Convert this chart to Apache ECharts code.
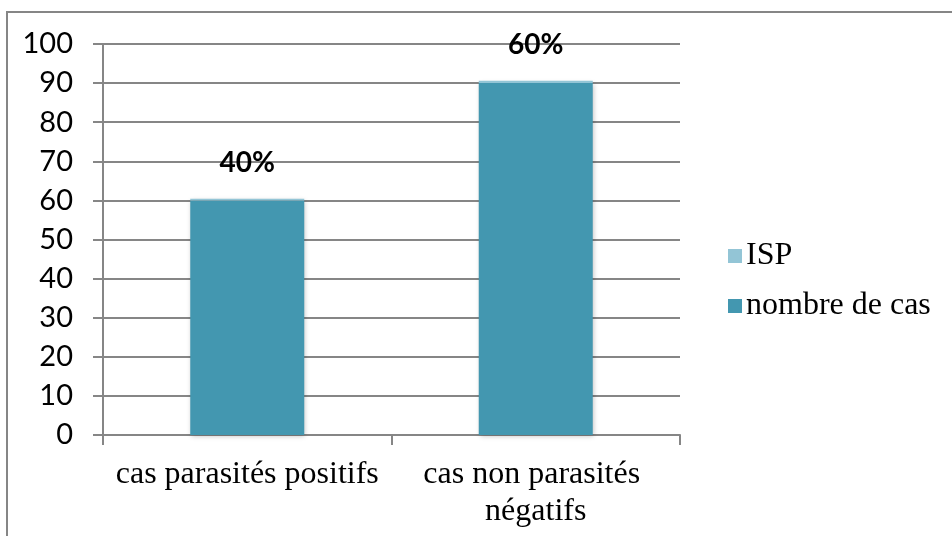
<!DOCTYPE html>
<html>
<head>
<meta charset="utf-8">
<script src="https://cdn.jsdelivr.net/npm/echarts@6/dist/echarts.min.js"></script>
<style>
html,body{margin:0;padding:0;background:#fff;}
#chart{width:952px;height:536px;}
</style>
</head>
<body>
<div id="chart"></div>
<script>
var categories = ['cas parasités positifs', 'cas non parasités négatifs'];
var nombreDeCas = [60, 90];
var ispValues = [0.4, 0.6];
var yTicks = { min: 0, max: 100, interval: 10 };

var sansFont = 'Lato';
var serifFont = 'Liberation Serif';
var gray = '#868686';

var chart = echarts.init(document.getElementById('chart'));
chart.setOption({
  backgroundColor: '#ffffff',
  animation: false,
  graphic: [{
    type: 'rect',
    shape: { x: 7, y: 12, width: 960, height: 540 },
    style: { fill: 'none', stroke: gray, lineWidth: 2 },
    silent: true
  }],
  grid: { left: 103, right: 272, top: 44, bottom: 101 },
  legend: {
    orient: 'vertical',
    left: 723,
    top: 235,
    itemWidth: 14,
    itemHeight: 14,
    itemGap: 18,
    icon: 'rect',
    data: ['ISP', 'nombre de cas'],
    textStyle: { fontFamily: serifFont, fontSize: 32, color: '#000', lineHeight: 32, padding: [0, 0, 0, -1] }
  },
  xAxis: {
    type: 'category',
    data: categories,
    boundaryGap: true,
    axisLine: { lineStyle: { color: gray, width: 2 } },
    axisTick: { show: true, length: 10, lineStyle: { color: gray, width: 2 } },
    axisLabel: {
      interval: 0,
      margin: 21,
      fontFamily: serifFont,
      fontSize: 32,
      lineHeight: 37,
      color: '#000',
      width: 285,
      overflow: 'break',
      align: 'center'
    }
  },
  yAxis: {
    type: 'value',
    min: yTicks.min,
    max: yTicks.max,
    interval: yTicks.interval,
    axisLine: { show: true, lineStyle: { color: gray, width: 2 } },
    axisTick: { show: true, length: 10, lineStyle: { color: gray, width: 2 } },
    splitLine: { show: true, lineStyle: { color: gray, width: 2 } },
    axisLabel: { margin: 30, fontFamily: sansFont, fontSize: 29, color: '#000' }
  },
  series: [
    {
      name: 'nombre de cas',
      type: 'bar',
      stack: 'total',
      data: nombreDeCas,
      barWidth: 114,
      itemStyle: {
        color: '#4397b0',
        shadowColor: 'rgba(0,0,0,0.25)',
        shadowBlur: 5,
        shadowOffsetX: 1,
        shadowOffsetY: 1
      }
    },
    {
      name: 'ISP',
      type: 'bar',
      stack: 'total',
      data: ispValues,
      barWidth: 114,
      itemStyle: { color: '#93c5d6' },
      label: {
        show: true,
        position: 'top',
        distance: 22,
        fontFamily: sansFont,
        fontWeight: 'bold',
        fontSize: 28,
        color: '#000',
        formatter: function (p) { return Math.round(p.value * 100) + '%'; }
      }
    }
  ]
});
</script>
</body>
</html>
